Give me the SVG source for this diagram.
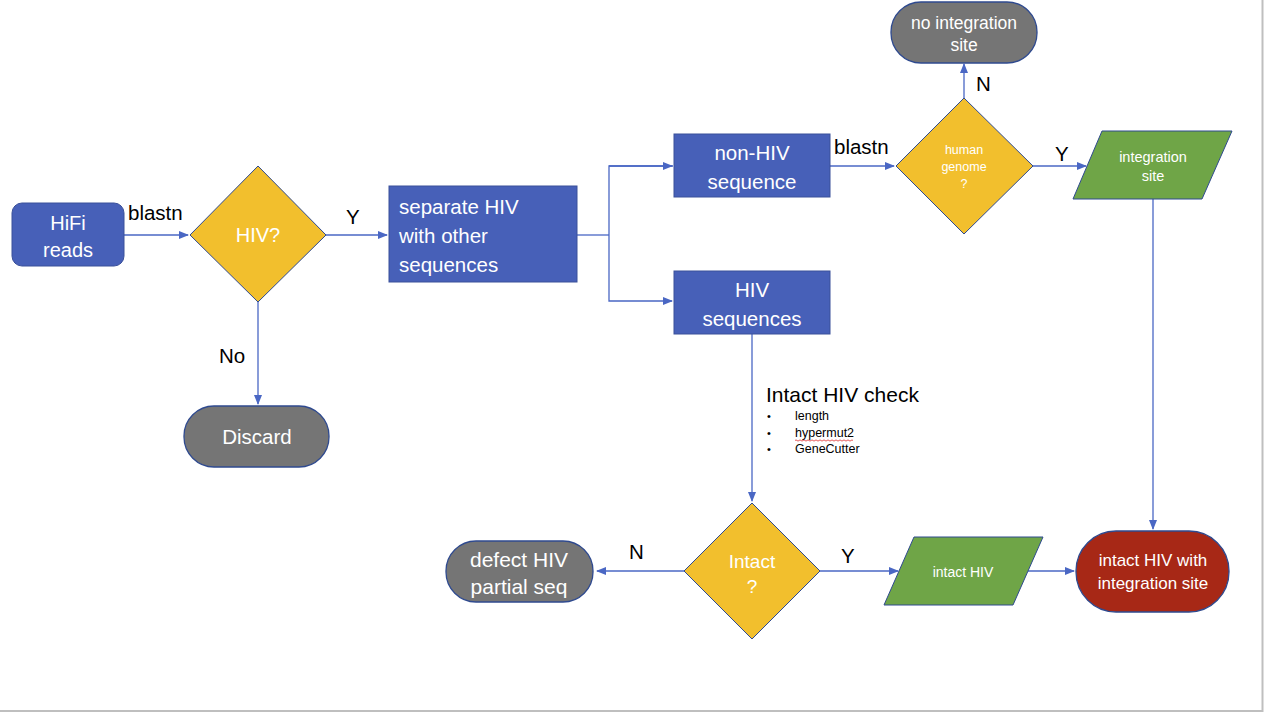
<svg xmlns="http://www.w3.org/2000/svg" width="1264" height="712" viewBox="0 0 1264 712">
<defs>
<marker id="arr" markerWidth="10" markerHeight="8" refX="9" refY="4" orient="auto" markerUnits="userSpaceOnUse">
<path d="M0,0 L10,4 L0,8 Z" fill="#4A67C4"/>
</marker>
<style>
.conn{fill:none;stroke:#4A67C4;stroke-width:1.3}
.blue{fill:#4760B8;stroke:#3A509A;stroke-width:1}
.gold{fill:#F2BF2D;stroke:#2F4A8F;stroke-width:1}
.green{fill:#6FA547;stroke:#2F4A8F;stroke-width:1}
.gray{fill:#757575;stroke:#2F4A8F;stroke-width:1.3}
.red{fill:#A72816;stroke:#2F4A8F;stroke-width:1.3}
text{font-family:"Liberation Sans",Arial,sans-serif}
.w{fill:#fff;text-anchor:middle}
.lbl{fill:#000;font-size:20.5px}
</style>
</defs>
<rect x="0" y="0" width="1264" height="712" fill="#fff"/>
<path d="M1262.5,0 V711 H0" fill="none" stroke="#bfbfbf" stroke-width="2"/>

<g id="connectors">
<path class="conn" d="M124,235 H188" marker-end="url(#arr)"/>
<path class="conn" d="M326,235 H387" marker-end="url(#arr)"/>
<path class="conn" d="M258,302 V404" marker-end="url(#arr)"/>
<path class="conn" d="M577,235 H609"/>
<path class="conn" d="M673,166 H609 V301 H672" marker-end="url(#arr)"/>
<path class="conn" d="M609,166 H672" marker-end="url(#arr)"/>
<path class="conn" d="M830,166 H894" marker-end="url(#arr)"/>
<path class="conn" d="M964,98 V64" marker-end="url(#arr)"/>
<path class="conn" d="M1033,166 H1086" marker-end="url(#arr)"/>
<path class="conn" d="M1153,199 V529" marker-end="url(#arr)"/>
<path class="conn" d="M752,334 V501" marker-end="url(#arr)"/>
<path class="conn" d="M684,571 H597" marker-end="url(#arr)"/>
<path class="conn" d="M820,571 H898" marker-end="url(#arr)"/>
<path class="conn" d="M1028,571 H1074" marker-end="url(#arr)"/>
</g>

<g id="labels">
<text class="lbl" x="128" y="220">blastn</text>
<text class="lbl" x="346" y="224">Y</text>
<text class="lbl" x="219" y="363">No</text>
<text class="lbl" x="834" y="154">blastn</text>
<text class="lbl" x="976" y="91">N</text>
<text class="lbl" x="1055" y="161">Y</text>
<text class="lbl" x="629" y="559">N</text>
<text class="lbl" x="841" y="563">Y</text>
</g>

<g id="hifi">
<rect class="blue" x="12" y="203" width="112" height="63" rx="10"/>
<text class="w" x="68" y="230" font-size="20">HiFi</text>
<text class="w" x="68" y="257" font-size="20">reads</text>
</g>

<g id="hiv-decision">
<polygon class="gold" points="258,166 326,235 258,302 190,235"/>
<text class="w" x="258" y="242" font-size="20">HIV?</text>
</g>

<g id="discard">
<rect class="gray" x="184" y="406" width="145" height="61" rx="30"/>
<text class="w" x="257" y="444" font-size="20.5">Discard</text>
</g>

<g id="separate">
<rect class="blue" x="389" y="186" width="188" height="96"/>
<text fill="#fff" x="399" y="214" font-size="20.5">separate HIV</text>
<text fill="#fff" x="399" y="243" font-size="20.5">with other</text>
<text fill="#fff" x="399" y="272" font-size="20.5">sequences</text>
</g>

<g id="non-hiv">
<rect class="blue" x="674" y="134" width="156" height="63"/>
<text class="w" x="752" y="160" font-size="20.5">non-HIV</text>
<text class="w" x="752" y="189" font-size="20.5">sequence</text>
</g>

<g id="hiv-seq">
<rect class="blue" x="674" y="271" width="156" height="63"/>
<text class="w" x="752" y="297" font-size="20.5">HIV</text>
<text class="w" x="752" y="326" font-size="20.5">sequences</text>
</g>

<g id="human-genome">
<polygon class="gold" points="964,98 1033,166 964,234 896,166"/>
<text class="w" x="964" y="154" font-size="12.5">human</text>
<text class="w" x="964" y="171" font-size="12.5">genome</text>
<text class="w" x="964" y="188" font-size="12.5">?</text>
</g>

<g id="no-integration">
<rect class="gray" x="891" y="2" width="146" height="61" rx="30"/>
<text class="w" x="964" y="29" font-size="17.5">no integration</text>
<text class="w" x="964" y="51" font-size="17.5">site</text>
</g>

<g id="integration-site">
<polygon class="green" points="1102,131 1232,131 1202,199 1073,199"/>
<text class="w" x="1153" y="162" font-size="14.5">integration</text>
<text class="w" x="1153" y="181" font-size="14.5">site</text>
</g>

<g id="check-note">
<text x="766" y="402" font-size="21" fill="#000">Intact HIV check</text>
<text x="767" y="420" font-size="11" fill="#000">•</text>
<text x="795" y="420" font-size="12.5" fill="#000">length</text>
<text x="767" y="437" font-size="11" fill="#000">•</text>
<text x="795" y="437" font-size="12.5" fill="#000">hypermut2</text>
<path d="M795,440.5 q1,-1.2 2,0 t2,0 t2,0 t2,0 t2,0 t2,0 t2,0 t2,0 t2,0 t2,0 t2,0 t2,0 t2,0 t2,0 t2,0 t2,0 t2,0 t2,0 t2,0 t2,0 t2,0 t2,0 t2,0 t2,0 t2,0 t2,0 t2,0 t2,0 t2,0" fill="none" stroke="#e03030" stroke-width="0.8"/>
<text x="767" y="453" font-size="11" fill="#000">•</text>
<text x="795" y="453" font-size="12.5" fill="#000">GeneCutter</text>
</g>

<g id="intact-decision">
<polygon class="gold" points="752,503 820,571 752,639 684,571"/>
<text class="w" x="752" y="568" font-size="19">Intact</text>
<text class="w" x="752" y="593" font-size="19">?</text>
</g>

<g id="defect">
<rect class="gray" x="446" y="541" width="147" height="61" rx="30"/>
<text class="w" x="519" y="567" font-size="21">defect HIV</text>
<text class="w" x="519" y="594" font-size="21">partial seq</text>
</g>

<g id="intact-hiv">
<polygon class="green" points="914,537 1043,537 1013,605 884,605"/>
<text class="w" x="963" y="577" font-size="14">intact HIV</text>
</g>

<g id="final">
<rect class="red" x="1076" y="531" width="153" height="81" rx="40"/>
<text class="w" x="1153" y="566" font-size="17">intact HIV with</text>
<text class="w" x="1153" y="589" font-size="17">integration site</text>
</g>
</svg>
